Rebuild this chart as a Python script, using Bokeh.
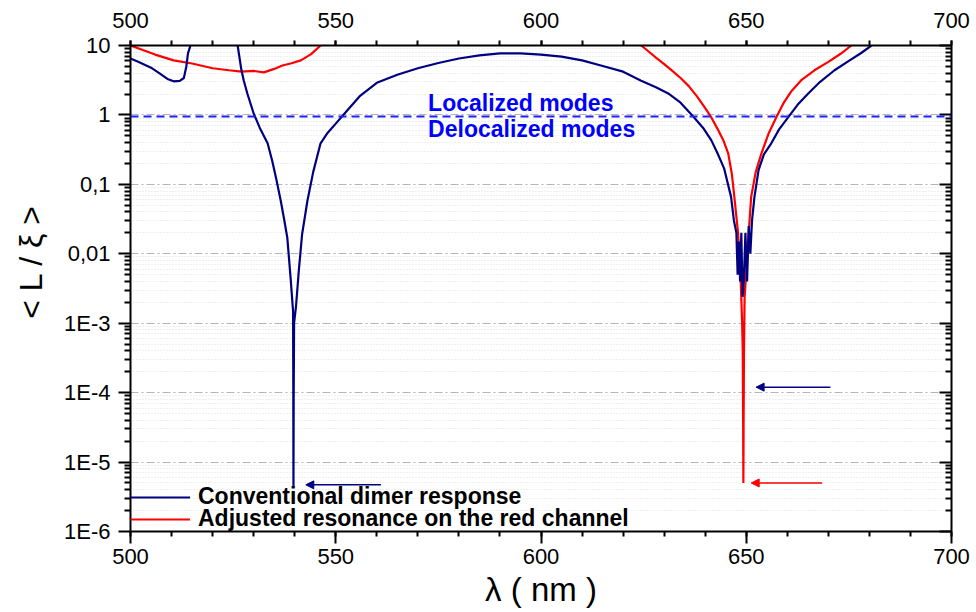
from bokeh.plotting import figure
from bokeh.models import (Range1d, LinearAxis, LogAxis, FixedTicker, SingleIntervalTicker,
                          CustomJSTickFormatter, Span, Label, Arrow, NormalHead, Legend, LegendItem)
from bokeh.embed import file_html
from bokeh.resources import INLINE

# ---------------- data ----------------
blue_a_x = [500, 502, 505, 507, 509, 510.5, 512, 513, 513.6, 514, 514.6]
blue_a_y = [6.5, 5.8, 4.8, 4.0, 3.3, 3.05, 3.1, 3.4, 5.0, 7.7, 10]

blue_b_x = [526.1, 527, 527.6, 528.5, 530, 531.5, 533.4, 534.5, 535.5, 536.6, 537.4, 538.2,
            539.0, 539.6, 539.65, 539.7, 539.75, 539.85, 540.3, 541.0, 541.8, 543.1, 544.5,
            546.3, 548, 550, 553, 556, 560, 565, 570, 575, 580, 585, 590, 595, 600, 605, 610,
            614.6, 620, 624.4, 628, 631, 634, 637.3, 639.5, 641.5, 643, 644.6, 646.3, 647,
            647.6, 647.9, 648.2, 648.5, 648.8, 649.1, 649.4, 649.8, 650.2, 650.6, 651.0, 651.4,
            652, 653, 654.3, 656.1, 658, 660.2, 662.5, 665.1, 668, 671.5, 675, 678, 680.5]
blue_b_y = [10, 4.5, 3.1, 2.0, 1.05, 0.65, 0.39, 0.22, 0.12, 0.058, 0.032, 0.017,
            4.5e-3, 1.5e-3, 2e-4, 4.4e-6, 8e-5, 1e-3, 1.7e-3, 5.7e-3, 0.019, 0.058, 0.15,
            0.39, 0.55, 0.75, 1.2, 1.9, 2.9, 3.8, 4.7, 5.6, 6.5, 7.2, 7.7, 7.7, 7.4, 6.9, 6.1,
            5.15, 4.2, 3.1, 2.5, 2.04, 1.5, 0.92, 0.65, 0.43, 0.28, 0.17, 0.066, 0.03,
            0.02, 0.005, 0.015, 0.004, 0.02, 2.4e-3, 4e-3, 0.02, 0.004, 0.025, 0.01, 0.03,
            0.066, 0.16, 0.27, 0.39, 0.62, 0.92, 1.4, 2.04, 3.0, 4.4, 6.0, 7.8, 10]

red_a_x = [500, 503, 506, 510.5, 515, 520, 524, 527, 530, 532.5, 535, 537, 539, 541.5, 544, 546.3]
red_a_y = [10, 8.6, 7.4, 6.1, 5.5, 4.7, 4.4, 4.2, 4.3, 4.1, 4.6, 5.15, 5.5, 6.1, 7.5, 10]

red_b_x = [624.4, 626, 628, 630, 632, 634, 636, 638, 640, 641.5, 643, 644.5, 645.6, 646.5,
           647.1, 648, 648.6, 649.0, 649.15, 649.25, 649.3, 649.35, 649.45, 649.6, 650.2,
           650.8, 651.2, 652.3, 653.7, 655.5, 657.3, 659, 661, 663.5, 666.6, 670, 673, 675.6]
red_b_y = [10, 8.4, 6.7, 5.4, 4.3, 3.4, 2.6, 1.85, 1.25, 0.92, 0.63, 0.42, 0.28, 0.14,
           0.066, 0.02, 5e-3, 1e-3, 4e-4, 2.6e-5, 5e-6, 3e-5, 4e-4, 2.4e-3, 0.008,
           0.03, 0.066, 0.15, 0.28, 0.55, 0.92, 1.45, 2.2, 3.2, 4.4, 5.8, 7.6, 10]

# arrows: start x, end x, y
arrow_x_start = [561, 670.5, 668.5]
arrow_x_end = [542.7, 652.4, 651.2]
arrow_y = [4.7e-6, 1.2e-4, 5e-6]
arrow_colors = ["#000080", "#000080", "#FF0000"]

threshold = 0.95
mode_labels = ["Localized modes", "Delocalized modes"]
mode_label_x = [572.5, 572.5]
mode_label_y = [1.51, 0.637]

series_labels = ["Conventional dimer response", "Adjusted resonance on the red channel"]

y_ticks = [1e-6, 1e-5, 1e-4, 1e-3, 1e-2, 1e-1, 1, 10]
y_tick_labels = ["1E-6", "1E-5", "1E-4", "1E-3", "0,01", "0,1", "1", "10"]
y_minor = [k * d for d in y_ticks[:-1] for k in range(2, 10)]

FONT = "Liberation Sans"
NAVY = "#000080"
RED = "#FF0000"

p = figure(width=976, height=612, x_range=Range1d(500, 700), y_range=Range1d(1e-6, 10),
           y_axis_type="log", output_backend="svg", toolbar_location=None,
           min_border_left=130, min_border_right=25, min_border_top=45, min_border_bottom=81)
p.outline_line_color = None
p.background_fill_color = "white"
p.border_fill_color = "white"

yticker = FixedTicker(ticks=y_ticks, minor_ticks=y_minor)
yfmt = CustomJSTickFormatter(args=dict(yt=y_ticks, yl=y_tick_labels), code="""
for (let i = 0; i < yt.length; i++) {
  if (Math.abs(Math.log10(tick) - Math.log10(yt[i])) < 1e-6) return yl[i];
}
return '';
""")
xticker = SingleIntervalTicker(interval=50, num_minor_ticks=5)


def style_axis(ax):
    ax.axis_line_color = "black"
    ax.axis_line_width = 2
    ax.major_tick_line_color = "black"
    ax.major_tick_line_width = 2
    ax.minor_tick_line_color = "black"
    ax.minor_tick_line_width = 2
    ax.major_label_text_font = FONT
    ax.major_label_text_font_size = "22px"
    ax.major_label_text_color = "black"
    ax.axis_label_text_font = FONT
    ax.axis_label_text_font_style = "normal"
    ax.axis_label_text_font_size = "33px"
    ax.axis_label_text_color = "black"


# left axis
la = p.yaxis[0]
la.ticker = yticker
la.formatter = yfmt
style_axis(la)
la.major_tick_out = 12
la.major_tick_in = 0
la.minor_tick_out = 6
la.minor_tick_in = 0
la.major_label_standoff = 8
la.axis_label = "\u00a0\u00a0\u00a0\u00a0\u00a0\u00a0< L / ξ >"
la.axis_label_text_font_size = "32px"
la.axis_label_standoff = 12

# bottom axis
ba = p.xaxis[0]
ba.ticker = xticker
style_axis(ba)
ba.major_tick_out = 12
ba.major_tick_in = 0
ba.minor_tick_out = 5
ba.minor_tick_in = 0
ba.major_label_standoff = 5
ba.axis_label = "λ ( nm )"
ba.axis_label_standoff = 4

# top axis
ta = LinearAxis(ticker=xticker)
style_axis(ta)
ta.major_tick_out = 5
ta.major_tick_in = 0
ta.minor_tick_out = 5
ta.minor_tick_in = 0
ta.major_label_standoff = 13
p.add_layout(ta, "above")

# right axis (ticks inside, no labels)
ra = LogAxis(ticker=yticker, formatter=CustomJSTickFormatter(code="return '';"))
style_axis(ra)
ra.major_tick_out = 0
ra.major_tick_in = 12
ra.minor_tick_out = 0
ra.minor_tick_in = 6
ra.major_label_standoff = 0
p.add_layout(ra, "right")

# grids
p.xgrid.grid_line_color = None
p.ygrid.ticker = yticker
p.ygrid.grid_line_color = "#b4b4b4"
p.ygrid.grid_line_dash = "8 3 2 3"
p.ygrid.grid_line_width = 1
p.ygrid.minor_grid_line_color = "#dedede"
p.ygrid.minor_grid_line_dash = "1 2"
p.ygrid.minor_grid_line_width = 1

# threshold line
p.add_layout(Span(location=threshold, dimension="width", line_color="#1E1EFF",
                  line_width=2, line_dash="8 5"))

# curves
r_red_a = p.line(red_a_x, red_a_y, line_color=RED, line_width=2.2)
r_red_b = p.line(red_b_x, red_b_y, line_color=RED, line_width=2.2)
r_blue_a = p.line(blue_a_x, blue_a_y, line_color=NAVY, line_width=2.2)
r_blue_b = p.line(blue_b_x, blue_b_y, line_color=NAVY, line_width=2.2)

# mode labels
for t, lx, ly in zip(mode_labels, mode_label_x, mode_label_y):
    p.add_layout(Label(x=lx, y=ly, text=t, text_font=FONT, text_font_style="bold",
                       text_font_size="23px", text_color="#0000FF", text_baseline="middle",
                       text_align="left"))

# arrows
for xs, xe, yv, c in zip(arrow_x_start, arrow_x_end, arrow_y, arrow_colors):
    p.add_layout(Arrow(end=NormalHead(size=8, fill_color=c, line_color=c, line_width=1),
                       x_start=xs, y_start=yv, x_end=xe, y_end=yv,
                       line_color=c, line_width=1.5))

# legend: one legend per row so the rows can sit as close as in the reference
for lab, rend, loc in [(series_labels[0], r_blue_b, (0, 21)),
                       (series_labels[1], r_red_b, (0, -1))]:
    lg = Legend(items=[LegendItem(label=lab, renderers=[rend])],
                location=loc, padding=0, margin=0, spacing=0,
                glyph_width=60, glyph_height=20, label_height=20, label_standoff=8,
                label_text_font=FONT, label_text_font_style="bold",
                label_text_font_size="23px", label_text_color="black",
                label_text_line_height=0.9,
                border_line_color=None, background_fill_alpha=0)
    p.add_layout(lg)

open("out.html", "w").write(file_html(p, INLINE))
